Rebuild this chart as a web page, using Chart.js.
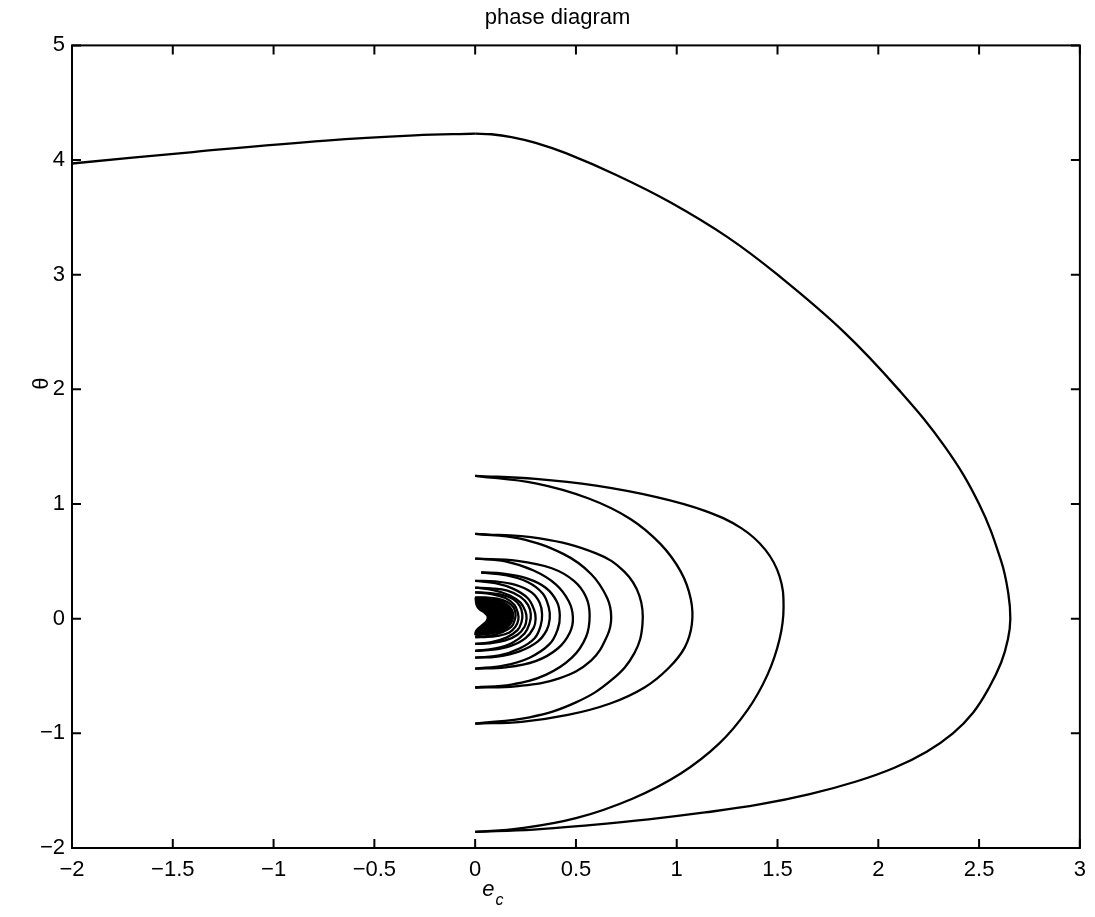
<!DOCTYPE html>
<html>
<head>
<meta charset="utf-8">
<script src="https://cdn.jsdelivr.net/npm/chart.js@4.4.0/dist/chart.umd.min.js"></script>
<style>
  html, body { margin: 0; padding: 0; background: #fff; }
</style>
</head>
<body>
<canvas id="phaseChart" width="1095" height="917"></canvas>
<script>
const FONT = '"Liberation Sans", Arial, Helvetica, sans-serif';

const xTickLabels = ['\u22122', '\u22121.5', '\u22121', '\u22120.5', '0', '0.5', '1', '1.5', '2', '2.5', '3'];
const yTickLabels = ['\u22122', '\u22121', '0', '1', '2', '3', '4', '5'];

// trajectory pieces, [e_c, theta]
const approach = [[-2, 3.97], [-1.4, 4.07], [-0.74, 4.17], [-0.3, 4.215], [0, 4.23]];

const arc1 = [[0, 4.23], [0.08, 4.225], [0.18, 4.2], [0.3, 4.15], [0.45, 4.06], [0.7, 3.87],
  [0.97, 3.63], [1.25, 3.33], [1.5, 3.0], [1.83, 2.5], [2.1, 2.0], [2.33, 1.5], [2.5, 1.0],
  [2.61, 0.5], [2.645, 0.22], [2.655, 0.0], [2.643, -0.18], [2.61, -0.38], [2.55, -0.6], [2.47, -0.82],
  [2.37, -1.0], [2.24, -1.16], [2.08, -1.3], [1.89, -1.42], [1.66, -1.53], [1.41, -1.62],
  [1.14, -1.69], [0.86, -1.75], [0.57, -1.80], [0.29, -1.84], [0, -1.86]];

const arc2 = [[0, -1.86], [0.22, -1.83], [0.5, -1.74], [0.78, -1.57], [1.02, -1.35], [1.21, -1.09],
  [1.35, -0.8], [1.45, -0.49], [1.51, -0.18], [1.53, 0.1], [1.51, 0.37], [1.44, 0.6], [1.32, 0.79],
  [1.14, 0.94], [0.9, 1.06], [0.6, 1.16], [0.3, 1.22], [0, 1.246]];

const arc3 = [[0, 1.246], [0.3, 1.18], [0.56, 1.05], [0.77, 0.87], [0.92, 0.65], [1.02, 0.41],
  [1.07, 0.17], [1.075, -0.05], [1.04, -0.25], [0.96, -0.43], [0.84, -0.6], [0.67, -0.74],
  [0.46, -0.84], [0.23, -0.9], [0, -0.915]];

const arc4 = [[0, -0.915], [0.27, -0.86], [0.5, -0.73], [0.68, -0.53], [0.79, -0.3], [0.83, -0.05],
  [0.815, 0.2], [0.74, 0.41], [0.6, 0.57], [0.32, 0.70], [0, 0.74]];

const arc5 = [[0, 0.74], [0.217, 0.70], [0.437, 0.565], [0.575, 0.39], [0.655, 0.18], [0.675, 0.01],
  [0.655, -0.15], [0.575, -0.365], [0.417, -0.52], [0.2, -0.59], [0, -0.6]];

const arc6 = [[0, -0.6], [0.18, -0.575], [0.35, -0.49], [0.48, -0.34], [0.55, -0.16], [0.568, 0.03],
  [0.55, 0.19], [0.49, 0.33], [0.38, 0.44], [0.21, 0.505], [0, 0.524]];

const arc7 = [[0, 0.524], [0.15, 0.5], [0.29, 0.42], [0.4, 0.3], [0.465, 0.15], [0.485, 0.01],
  [0.47, -0.12], [0.41, -0.26], [0.3, -0.37], [0.15, -0.425], [0, -0.435]];

const arc8 = [[0, -0.435], [0.14, -0.41], [0.27, -0.34], [0.37, -0.22], [0.41, -0.09], [0.42, 0.03],
  [0.405, 0.15], [0.35, 0.27], [0.26, 0.35], [0.14, 0.393], [0.03, 0.403]];

const arc9 = [[0.03, 0.403], [0.15, 0.38], [0.26, 0.32], [0.335, 0.22], [0.365, 0.1], [0.37, 0.0],
  [0.355, -0.1], [0.31, -0.2], [0.22, -0.285], [0.11, -0.33], [0, -0.34]];

const arc10 = [[0, -0.34], [0.12, -0.32], [0.22, -0.26], [0.295, -0.17], [0.325, -0.06], [0.332, 0.04],
  [0.32, 0.14], [0.28, 0.23], [0.2, 0.295], [0.1, 0.325], [0, 0.33]];

const arc11 = [[0, 0.33], [0.1, 0.31], [0.19, 0.26], [0.26, 0.18], [0.292, 0.08], [0.3, 0.0],
  [0.29, -0.08], [0.25, -0.17], [0.18, -0.235], [0.09, -0.27], [0, -0.28]];

const arc12 = [[0, -0.28], [0.1, -0.26], [0.185, -0.21], [0.245, -0.13], [0.27, -0.04], [0.276, 0.04],
  [0.262, 0.12], [0.225, 0.19], [0.16, 0.245], [0.08, 0.265], [0, 0.27]];

const arc13 = [[0, 0.27], [0.09, 0.25], [0.17, 0.205], [0.225, 0.14], [0.25, 0.06], [0.255, 0.0],
  [0.245, -0.07], [0.21, -0.14], [0.15, -0.19], [0.07, -0.215], [0, -0.22]];

const arc14 = [[0, -0.22], [0.08, -0.205], [0.155, -0.165], [0.21, -0.1], [0.23, -0.03], [0.234, 0.04],
  [0.222, 0.11], [0.19, 0.17], [0.13, 0.21], [0.06, 0.226], [0, 0.23]];

const arc15 = [[0, 0.23], [0.08, 0.215], [0.15, 0.18], [0.195, 0.12], [0.212, 0.05], [0.214, -0.01],
  [0.2, -0.07], [0.17, -0.12], [0.11, -0.15], [0.05, -0.16], [0, -0.16]];

const arc16 = [[0, -0.16], [0.07, -0.15], [0.13, -0.12], [0.18, -0.07], [0.198, 0.0], [0.2, 0.05],
  [0.19, 0.1], [0.16, 0.145], [0.11, 0.175], [0.05, 0.185], [0, 0.185]];

// the solid core where the spiral lines merge
const core = [[0, 0.185], [0.07, 0.18], [0.13, 0.155], [0.17, 0.11], [0.19, 0.05], [0.185, -0.02],
  [0.16, -0.08], [0.11, -0.12], [0.05, -0.14], [0, -0.14], [0.005, -0.1], [0.03, -0.06],
  [0.055, -0.02], [0.06, 0.02], [0.045, 0.05], [0.02, 0.08], [0.005, 0.12], [0, 0.185]];

const pieces = [approach, arc1, arc2, arc3, arc4, arc5, arc6, arc7, arc8,
  arc9, arc10, arc11, arc12, arc13, arc14, arc15, arc16];

const toXY = pts => pts.map(([x, y]) => ({ x: x, y: y }));

const datasets = pieces.map(pts => ({
  data: toXY(pts),
  showLine: true,
  borderColor: '#000',
  borderWidth: 2.3,
  pointRadius: 0,
  tension: 0.4,
  fill: false
}));

datasets.push({
  data: toXY(core),
  showLine: true,
  borderColor: '#000',
  backgroundColor: '#000',
  borderWidth: 1.5,
  pointRadius: 0,
  tension: 0.3,
  fill: 'shape'
});

// MATLAB style box with inward ticks, plus the axis labels
const frameAndLabels = {
  id: 'frameAndLabels',
  afterDraw(chart) {
    const { ctx, chartArea: a, scales: { x, y } } = chart;
    const tl = 9;
    ctx.save();
    ctx.strokeStyle = '#000';
    ctx.lineWidth = 2;
    ctx.strokeRect(a.left, a.top, a.right - a.left, a.bottom - a.top);

    ctx.beginPath();
    x.ticks.forEach(t => {
      const px = x.getPixelForValue(t.value);
      ctx.moveTo(px, a.bottom); ctx.lineTo(px, a.bottom - tl);
      ctx.moveTo(px, a.top); ctx.lineTo(px, a.top + tl);
    });
    y.ticks.forEach(t => {
      const py = y.getPixelForValue(t.value);
      ctx.moveTo(a.left, py); ctx.lineTo(a.left + tl, py);
      ctx.moveTo(a.right, py); ctx.lineTo(a.right - tl, py);
    });
    ctx.stroke();

    ctx.fillStyle = '#000';
    // x label: e with subscript c
    const ex = x.getPixelForValue(0.035);
    ctx.textAlign = 'left';
    ctx.textBaseline = 'alphabetic';
    ctx.font = 'italic 22px ' + FONT;
    ctx.fillText('e', ex, a.bottom + 48);
    const ew = ctx.measureText('e').width;
    ctx.font = 'italic 16px ' + FONT;
    ctx.fillText('c', ex + ew + 1, a.bottom + 57);

    // y label: theta, rotated
    ctx.translate(a.left - 30, y.getPixelForValue(2.05));
    ctx.rotate(-Math.PI / 2);
    ctx.textAlign = 'center';
    ctx.textBaseline = 'middle';
    ctx.font = '22px ' + FONT;
    ctx.fillText('\u03b8', 0, 0);
    ctx.restore();
  }
};

new Chart(
  document.getElementById('phaseChart'),
  {
    type: 'scatter',
    data: { datasets: datasets },
    plugins: [frameAndLabels],
    options: {
      responsive: false,
      animation: false,
      layout: { padding: { left: 30, right: 10, top: 0, bottom: 0 } },
      plugins: {
        legend: { display: false },
        tooltip: { enabled: false },
        title: {
          display: true,
          text: 'phase diagram',
          color: '#000',
          font: { family: FONT, size: 22, weight: 'normal' },
          padding: { top: 5, bottom: 14 }
        }
      },
      scales: {
        x: {
          type: 'linear',
          min: -2,
          max: 3,
          afterFit: s => { s.height = 69; },
          grid: { display: false, drawTicks: false },
          border: { display: false },
          ticks: {
            stepSize: 0.5,
            autoSkip: false,
            maxRotation: 0,
            padding: 9,
            color: '#000',
            font: { family: FONT, size: 22 },
            callback: (v, i) => xTickLabels[i]
          }
        },
        y: {
          type: 'linear',
          min: -2,
          max: 5,
          afterFit: s => { s.width = 42; },
          grid: { display: false, drawTicks: false },
          border: { display: false },
          ticks: {
            stepSize: 1,
            autoSkip: false,
            padding: 7,
            color: '#000',
            font: { family: FONT, size: 22 },
            callback: (v, i) => yTickLabels[i]
          }
        }
      }
    }
  }
);
</script>
</body>
</html>
